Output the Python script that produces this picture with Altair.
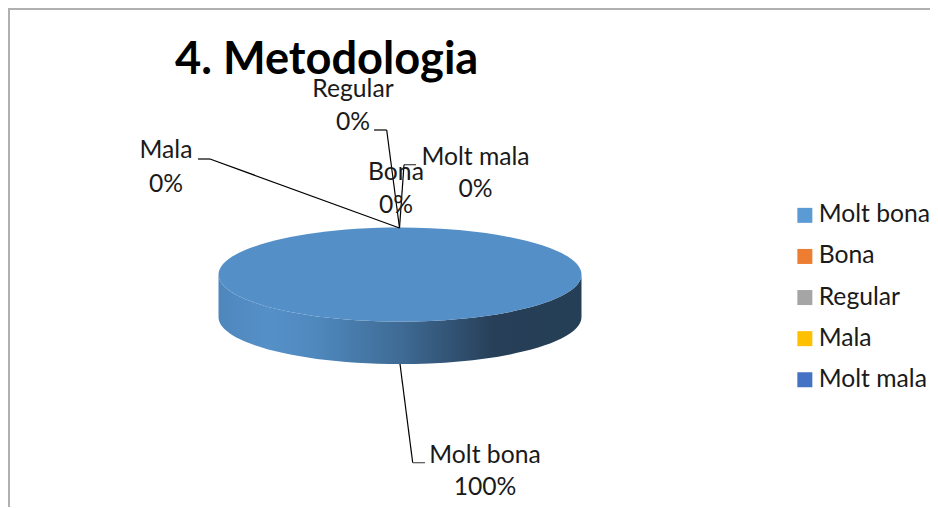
import altair as alt
import pandas as pd

categories = ["Molt bona", "Bona", "Regular", "Mala", "Molt mala"]
values = [100, 0, 0, 0, 0]
colors = ["#5B9BD5", "#ED7D31", "#A5A5A5", "#FFC000", "#4472C4"]
title_text = "4. Metodologia"
FONT = "Lato"
W, H = 922, 499

def X(v):
    return v - 8

def Y(v):
    return v - 8

df = pd.DataFrame({"category": categories, "value": values})
total = sum(values)
df["pct"] = [f"{round(v / total * 100)}%" for v in values]

# invisible layer that carries the real legend
legend_layer = alt.Chart(df).mark_square(opacity=0, size=225).encode(
    x=alt.value(X(400)), y=alt.value(Y(275)),
    color=alt.Color("category:N",
        scale=alt.Scale(domain=categories, range=colors),
        legend=alt.Legend(title=None, orient="none", legendX=X(792.5), legendY=Y(203),
                          symbolType="square", symbolSize=225, symbolOpacity=1,
                          symbolStrokeWidth=0, labelFont=FONT, labelFontSize=24.7,
                          labelColor="#1a1a1a", labelOffset=1.5, rowPadding=15.1,
                          labelLimit=200, padding=0)),
)

RX, RY, D = 181.5, 47, 42.5
top_path = f"M{-RX},0 A{RX},{RY} 0 1 1 {RX},0 A{RX},{RY} 0 1 1 {-RX},0 Z"
side_path = (f"M{-RX},0 A{RX},{RY} 0 0 0 {RX},0 L{RX},{D} "
             f"A{RX},{RY} 0 0 1 {-RX},{D} Z")
side_fill = alt.Gradient(gradient="linear", x1=0, x2=1, y1=0, y2=0, stops=[
    alt.GradientStop(offset=0, color="#4f87bc"),
    alt.GradientStop(offset=0.14, color="#5590c8"),
    alt.GradientStop(offset=0.27, color="#4f88bd"),
    alt.GradientStop(offset=0.5, color="#3f6b95"),
    alt.GradientStop(offset=0.76, color="#273f58"),
    alt.GradientStop(offset=1, color="#243f56"),
])

pie_base = alt.Chart(df).transform_filter("datum.value > 0")
side = pie_base.mark_point(shape=side_path, size=4, filled=True, fill=side_fill,
                           opacity=1, strokeWidth=0).encode(
    x=alt.value(X(400)), y=alt.value(Y(274.6)))
top = pie_base.mark_point(shape=top_path, size=4, filled=True, fill="#548FC7",
                          opacity=1, strokeWidth=0).encode(
    x=alt.value(X(400)), y=alt.value(Y(274.6)))

def seg(x1, y1, x2, y2, color="black", w=1.2):
    return alt.Chart(df.head(1)).mark_rule(color=color, strokeWidth=w).encode(
        x=alt.value(X(x1)), y=alt.value(Y(y1)), x2=alt.value(X(x2)), y2=alt.value(Y(y2)))

leaders = [
    seg(198, 159, 210, 159), seg(210, 159, 399.5, 228),
    seg(374, 130, 386.7, 130), seg(386.7, 130, 399.5, 228),
    seg(416, 164.7, 404, 164.7, "#444444"), seg(404, 164.7, 399.5, 228),
    seg(400, 364, 412.7, 462.7), seg(412.7, 462.7, 425, 462.7, "#555555"),
]

label_pos = {
    "Mala": (166, 158, 191.5),
    "Regular": (353, 96.5, 130),
    "Bona": (396, 180, 212.5),
    "Molt mala": (475.5, 165, 196.5),
    "Molt bona": (485, 462.5, 495),
}

labels = []
for cat, (cx, y1, y2) in label_pos.items():
    d = df[df.category == cat]
    for field, yy in (("category", y1), ("pct", y2)):
        labels.append(alt.Chart(d).mark_text(font=FONT, fontSize=24.7, color="#1a1a1a",
                                             align="center", baseline="alphabetic").encode(
            x=alt.value(X(cx)), y=alt.value(Y(yy)), text=f"{field}:N"))

frame = [
    seg(8, 9, 930, 9, "#b0b0b0", 2),
    seg(9, 8, 9, 508, "#b0b0b0", 2),
]

chart = alt.layer(*frame, legend_layer, side, top, *leaders, *labels).properties(
    width=W, height=H, padding=0, autosize=alt.AutoSizeParams(type="none"),
    title=alt.TitleParams(title_text, anchor="start", frame="group", font=FONT, fontSize=45.2,
                          fontWeight="bold", color="black", baseline="alphabetic",
                          dx=X(175), dy=112, offset=0),
).configure_view(stroke=None).configure_axis(grid=False)

chart.save("out.html", embed_options={"renderer": "svg", "actions": False})
